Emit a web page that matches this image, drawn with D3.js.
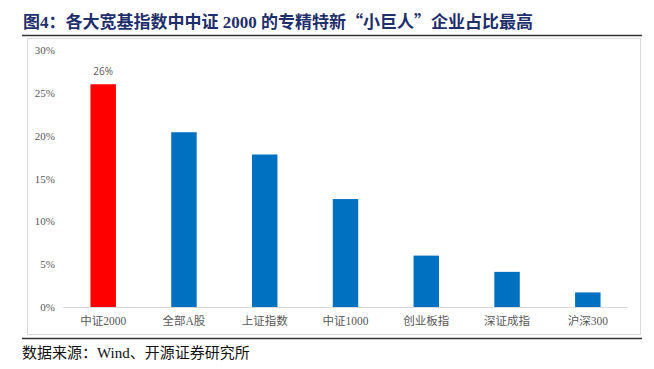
<!DOCTYPE html>
<html>
<head>
<meta charset="utf-8">
<script src="https://cdn.jsdelivr.net/npm/d3@7"></script>
<style>
  body { margin: 0; background: #fff; }
  svg { display: block; }
</style>
</head>
<body>
<div id="chart"></div>
<script>
var categories = ["中证2000", "全部A股", "上证指数", "中证1000", "创业板指", "深证成指", "沪深300"];
var shares = [26.0, 20.4, 17.8, 12.6, 6.0, 4.1, 1.7];
var yTicks = [0, 5, 10, 15, 20, 25, 30];
var labelled = ["中证2000"];

var W = 654, H = 369;
var serif = "'Liberation Serif', 'Noto Sans CJK SC', serif";
var cjk = "'Noto Sans CJK SC', sans-serif";

var svg = d3.select("#chart").append("svg")
  .attr("width", W)
  .attr("height", H);

/* title */
var title = svg.append("text")
  .attr("x", 23)
  .attr("y", 28)
  .attr("fill", "#1f2f6b")
  .style("font-family", serif)
  .style("font-weight", "bold")
  .style("font-size", "17px");
title.append("tspan").text("图4：各大宽基指数中中证 2000 的专精特新");
title.append("tspan").style("font-family", cjk).text("“");
title.append("tspan").text("小巨人");
title.append("tspan").style("font-family", cjk).text("”");
title.append("tspan").text("企业占比最高");

svg.append("line")
  .attr("x1", 22).attr("x2", 642)
  .attr("y1", 35.5).attr("y2", 35.5)
  .attr("stroke", "#333").attr("stroke-width", 1.5);

/* chart frame */
svg.append("rect")
  .attr("x", 27.5).attr("y", 38.5)
  .attr("width", 613).attr("height", 296)
  .attr("fill", "none")
  .attr("stroke", "#d9d9d9");

svg.append("line")
  .attr("x1", 22).attr("x2", 642)
  .attr("y1", 338.5).attr("y2", 338.5)
  .attr("stroke", "#333").attr("stroke-width", 1.5);

/* source */
svg.append("text")
  .attr("x", 22)
  .attr("y", 358)
  .attr("fill", "#111")
  .style("font-family", serif)
  .style("font-size", "15px")
  .text("数据来源：Wind、开源证券研究所");

/* scales */
var x = d3.scaleBand()
  .domain(categories)
  .range([63, 628])
  .paddingInner(0.685)
  .paddingOuter(0.34);

var y = d3.scaleLinear()
  .domain([0, 30])
  .range([307, 50]);

var g = svg.append("g");

/* y axis */
var yAxis = d3.axisLeft(y)
  .tickValues(yTicks)
  .tickFormat(d => d + "%")
  .tickSize(0)
  .tickPadding(0);

g.append("g")
  .attr("transform", "translate(55,0)")
  .call(yAxis)
  .call(s => s.select(".domain").remove())
  .selectAll("text")
  .attr("fill", "#595959")
  .style("font-family", serif)
  .style("font-size", "11px");

/* bars */
g.selectAll(".bar")
  .data(categories)
  .enter()
  .append("rect")
  .attr("class", "bar")
  .attr("x", d => x(d))
  .attr("width", x.bandwidth())
  .attr("y", (d, i) => y(shares[i]))
  .attr("height", (d, i) => y(0) - y(shares[i]))
  .attr("fill", (d, i) => i === 0 ? "#ff0000" : "#0070c0");

/* value label */
g.selectAll(".val")
  .data(categories.filter(c => labelled.indexOf(c) >= 0))
  .enter()
  .append("text")
  .attr("class", "val")
  .attr("x", d => x(d) + x.bandwidth() / 2)
  .attr("y", d => y(shares[categories.indexOf(d)]) - 9)
  .attr("text-anchor", "middle")
  .attr("fill", "#595959")
  .style("font-family", "'Open Sans', 'Liberation Sans', sans-serif")
  .style("font-size", "10px")
  .text(d => Math.round(shares[categories.indexOf(d)]) + "%");

/* x axis */
var xAxis = d3.axisBottom(x)
  .tickSize(0)
  .tickPadding(9);

g.append("g")
  .attr("transform", "translate(0,307.5)")
  .call(xAxis)
  .call(s => s.select(".domain")
    .attr("d", "M63,0H628")
    .attr("stroke", "#d9d9d9"))
  .selectAll("text")
  .attr("fill", "#595959")
  .style("font-family", serif)
  .style("font-size", "11.5px");
</script>
</body>
</html>
